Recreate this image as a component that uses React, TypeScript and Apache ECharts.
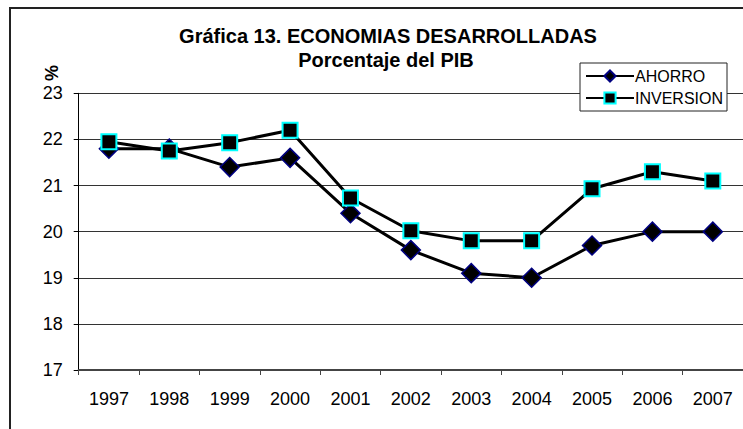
import React, { useEffect, useRef } from "react";
import * as echarts from "echarts";

const years = ["1997", "1998", "1999", "2000", "2001", "2002", "2003", "2004", "2005", "2006", "2007"];
const ahorro = [21.8, 21.8, 21.4, 21.6, 20.4, 19.6, 19.1, 19.0, 19.7, 20.0, 20.0];
const inversion = [21.95, 21.75, 21.93, 22.2, 20.73, 20.02, 19.8, 19.8, 20.93, 21.3, 21.1];
const yMin = 17;
const yMax = 23;
const yStep = 1;
const titleLine1 = "Gráfica 13. ECONOMIAS DESARROLLADAS";
const titleLine2 = "Porcentaje del PIB";
const yName = "%";

const FONT = "'Liberation Sans', Arial, sans-serif";

export default function App() {
  const ref = useRef<HTMLDivElement>(null);
  useEffect(() => {
    if (!ref.current) return;
    const chart = echarts.init(ref.current, null, { renderer: "svg" });
    chart.setOption({
      animation: false,
      backgroundColor: "#fff",
      textStyle: { fontFamily: FONT },
      grid: { left: 78.7, top: 93.3, bottom: 59, right: -4, containLabel: false },
      graphic: [
        {
          type: "rect",
          shape: { x: 10, y: 8, width: 800, height: 500 },
          style: { fill: "none", stroke: "#222", lineWidth: 2 },
          z: 100,
        },
        {
          type: "text",
          x: 388,
          y: 36,
          style: {
            text: titleLine1,
            fill: "#000",
            font: "bold 20px " + FONT,
            textAlign: "center",
            textVerticalAlign: "middle",
          },
        },
        {
          type: "text",
          x: 386,
          y: 60,
          style: {
            text: titleLine2,
            fill: "#000",
            font: "bold 20px " + FONT,
            textAlign: "center",
            textVerticalAlign: "middle",
          },
        },
        {
          type: "text",
          x: 52,
          y: 73,
          rotation: Math.PI / 2,
          style: {
            text: yName,
            fill: "#000",
            font: "bold 18px " + FONT,
            textAlign: "center",
            textVerticalAlign: "middle",
          },
        },
      ],
      legend: {
        orient: "vertical",
        left: 580,
        top: 63,
        backgroundColor: "#fff",
        borderColor: "#222",
        borderWidth: 1,
        padding: [5, 4, 5, 5],
        itemWidth: 48,
        itemHeight: 14,
        itemGap: 6,
        textStyle: { fontSize: 16, color: "#000", fontFamily: FONT, padding: [0, 0, 0, -4] },
        data: ["AHORRO", "INVERSION"],
        z: 50,
      },
      xAxis: {
        type: "category",
        data: years,
        boundaryGap: true,
        axisLine: { lineStyle: { color: "#444", width: 2 } },
        axisTick: { show: true, length: 5, lineStyle: { color: "#444" } },
        axisLabel: { fontSize: 18, color: "#000", margin: 20, fontFamily: FONT },
        splitLine: { show: false },
      },
      yAxis: {
        type: "value",
        min: yMin,
        max: yMax,
        interval: yStep,
        axisLine: { show: true, lineStyle: { color: "#000", width: 1 } },
        axisTick: { show: true, length: 5, lineStyle: { color: "#000" } },
        axisLabel: { fontSize: 18, color: "#000", margin: 16, fontFamily: FONT },
        splitLine: { show: true, lineStyle: { color: "#333", width: 1 } },
      },
      series: [
        {
          name: "AHORRO",
          type: "line",
          data: ahorro,
          symbol: "diamond",
          symbolSize: 19,
          lineStyle: { color: "#000", width: 3 },
          itemStyle: { color: "#000", borderColor: "#000080", borderWidth: 1.5 },
          z: 2,
        },
        {
          name: "INVERSION",
          type: "line",
          data: inversion,
          symbol: "rect",
          symbolSize: 15,
          lineStyle: { color: "#000", width: 3 },
          itemStyle: { color: "#000", borderColor: "#00ffff", borderWidth: 2 },
          z: 3,
        },
      ],
    });
    return () => chart.dispose();
  }, []);
  return (
    <div
      ref={ref}
      style={{ position: "fixed", left: 0, top: 0, width: 743, height: 429 }}
    />
  );
}
